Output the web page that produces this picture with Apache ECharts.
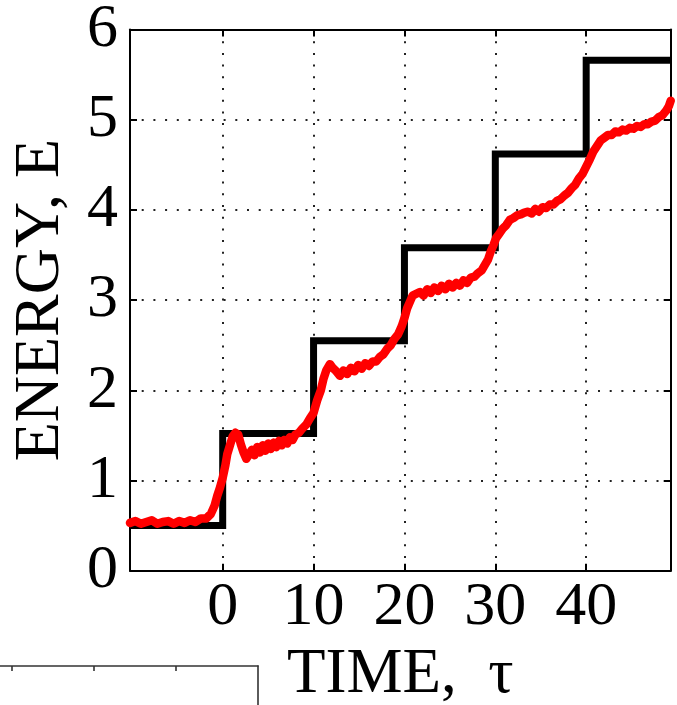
<!DOCTYPE html>
<html>
<head>
<meta charset="utf-8">
<script src="https://cdn.jsdelivr.net/npm/echarts@6/dist/echarts.min.js"></script>
<style>
html,body{margin:0;padding:0;background:#fff;}
#chart{width:677px;height:705px;}
</style>
</head>
<body>
<div id="chart"></div>
<script>
// ---- data ----
var xTicks = [0, 10, 20, 30, 40];
var yTicks = [0, 1, 2, 3, 4, 5, 6];
var stepTimes = [0, 10, 20, 30, 40];
var stepLevels = [0.5, 1.52, 2.55, 3.58, 4.62, 5.66];
var tStart = -10.2;
var tEnd = 49.3;
var redT = [-10.2,-9.6,-9.0,-8.4,-7.8,-7.2,-6.6,-6.0,-5.4,-4.8,-4.2,-3.6,-3.0,-2.4,-1.8,-1.3,-0.9,-0.6,-0.3,0.0,0.3,0.5,0.8,1.1,1.4,1.7,2.0,2.3,2.6,2.9,3.2,3.5,3.8,4.1,4.4,4.7,5.0,5.3,5.6,5.9,6.2,6.5,6.8,7.1,7.4,7.7,8.0,8.4,8.8,9.2,9.6,10.0,10.4,10.8,11.1,11.4,11.8,12.1,12.5,12.9,13.3,13.7,14.1,14.5,14.9,15.3,15.7,16.1,16.5,16.9,17.3,17.7,18.1,18.5,18.9,19.3,19.7,20.0,20.3,20.6,20.9,21.3,21.7,22.1,22.5,22.9,23.3,23.7,24.1,24.5,24.9,25.3,25.7,26.1,26.5,26.9,27.3,27.7,28.1,28.5,28.9,29.2,29.5,29.8,30.1,30.4,30.8,31.2,31.6,32.0,32.4,32.8,33.2,33.6,34.0,34.4,34.8,35.2,35.6,36.0,36.4,36.8,37.2,37.6,38.0,38.4,38.8,39.2,39.6,40.0,40.4,40.8,41.2,41.6,42.0,42.4,42.8,43.2,43.6,44.0,44.4,44.8,45.2,45.6,46.0,46.4,46.8,47.2,47.6,48.0,48.4,48.8,49.1,49.3];
var redE = [0.53,0.55,0.52,0.54,0.56,0.52,0.54,0.55,0.52,0.55,0.53,0.56,0.54,0.58,0.58,0.63,0.72,0.83,0.92,1.03,1.17,1.29,1.39,1.49,1.53,1.51,1.40,1.31,1.24,1.29,1.34,1.28,1.37,1.31,1.39,1.33,1.41,1.35,1.42,1.37,1.44,1.39,1.45,1.41,1.48,1.45,1.51,1.53,1.58,1.62,1.69,1.75,1.89,2.00,2.13,2.22,2.29,2.25,2.21,2.16,2.22,2.18,2.25,2.21,2.28,2.24,2.30,2.27,2.32,2.32,2.37,2.40,2.46,2.50,2.57,2.62,2.71,2.80,2.91,2.98,3.05,3.07,3.09,3.05,3.12,3.08,3.14,3.10,3.16,3.12,3.18,3.14,3.19,3.16,3.22,3.19,3.25,3.26,3.30,3.33,3.40,3.45,3.54,3.61,3.69,3.73,3.79,3.83,3.89,3.91,3.94,3.95,3.97,3.98,3.96,4.01,3.98,4.03,4.02,4.06,4.06,4.10,4.12,4.16,4.19,4.24,4.28,4.35,4.40,4.48,4.56,4.65,4.71,4.77,4.80,4.83,4.83,4.87,4.86,4.89,4.88,4.91,4.90,4.93,4.92,4.95,4.95,4.98,4.99,5.03,5.05,5.10,5.15,5.21,5.24];
var fragTicks = [1, 2, 3];

// ---- build series data ----
var stepData = [[tStart, stepLevels[0]]];
for (var i = 0; i < stepTimes.length; i++) {
  stepData.push([stepTimes[i], stepLevels[i]]);
  stepData.push([stepTimes[i], stepLevels[i + 1]]);
}
stepData.push([tEnd, stepLevels[stepLevels.length - 1]]);
var redData = redT.map(function (t, i) { return [t, redE[i]]; });

var FONT = 'Liberation Serif';
var black = '#000';
var chart = echarts.init(document.getElementById('chart'), null, {renderer: 'canvas'});
var tickStyle = {show: true, inside: true, length: 7, lineStyle: {color: black, width: 2}};
var frameLine = {show: true, onZero: false, lineStyle: {color: black, width: 2}};
var fragLine = {show: true, onZero: false, lineStyle: {color: '#333', width: 1.6}};
chart.setOption({
  animation: false,
  backgroundColor: '#fff',
  grid: [
    {left: 130, right: 6.3, top: 29.5, bottom: 134.3, outerBoundsMode: 'none', containLabel: false},
    {left: -70, top: 666, width: 328, height: 300, outerBoundsMode: 'none', containLabel: false}
  ],
  xAxis: [
    {
      type: 'value', gridIndex: 0, position: 'bottom', min: tStart, max: tEnd,
      axisLine: frameLine,
      axisTick: Object.assign({customValues: xTicks}, tickStyle),
      axisLabel: {customValues: xTicks, margin: 6, color: black, fontFamily: FONT, fontSize: 62},
      splitLine: {show: true, lineStyle: {color: '#222', width: 2, type: [2, 9.7]}},
      name: 'TIME,  \u03c4', nameLocation: 'middle', nameGap: 65,
      nameTextStyle: {color: black, fontFamily: FONT, fontSize: 63}
    },
    {
      type: 'value', gridIndex: 0, position: 'top', min: tStart, max: tEnd,
      axisLine: frameLine,
      axisTick: Object.assign({customValues: xTicks}, tickStyle),
      axisLabel: {show: false}, splitLine: {show: false}
    },
    {
      type: 'value', gridIndex: 1, position: 'top', min: 0, max: 4,
      axisLine: fragLine,
      axisTick: {show: true, inside: true, length: 5, customValues: fragTicks, lineStyle: {color: '#333', width: 1.6}},
      axisLabel: {show: false}, splitLine: {show: false}
    }
  ],
  yAxis: [
    {
      type: 'value', gridIndex: 0, position: 'left', min: 0, max: 6, interval: 1,
      axisLine: frameLine,
      axisTick: tickStyle,
      axisLabel: {margin: 12, color: black, fontFamily: FONT, fontSize: 62},
      splitLine: {show: true, lineStyle: {color: '#222', width: 2, type: [2, 9.7]}},
      name: 'ENERGY, E', nameLocation: 'middle', nameGap: 57,
      nameTextStyle: {color: black, fontFamily: FONT, fontSize: 64}
    },
    {
      type: 'value', gridIndex: 0, position: 'right', min: 0, max: 6, interval: 1,
      axisLine: frameLine,
      axisTick: tickStyle,
      axisLabel: {show: false}, splitLine: {show: false}
    },
    {
      type: 'value', gridIndex: 1, position: 'right', min: 0, max: 1,
      axisLine: fragLine,
      axisTick: {show: false}, axisLabel: {show: false}, splitLine: {show: false}
    }
  ],
  series: [
    {
      type: 'line', xAxisIndex: 0, yAxisIndex: 0, data: stepData, symbol: 'none',
      lineStyle: {color: black, width: 7, join: 'miter', cap: 'butt'}, z: 3
    },
    {
      type: 'line', xAxisIndex: 0, yAxisIndex: 0, data: redData, symbol: 'none',
      lineStyle: {color: '#ff0000', width: 8.5, join: 'round', cap: 'round'}, z: 4
    }
  ]
});
</script>
</body>
</html>
